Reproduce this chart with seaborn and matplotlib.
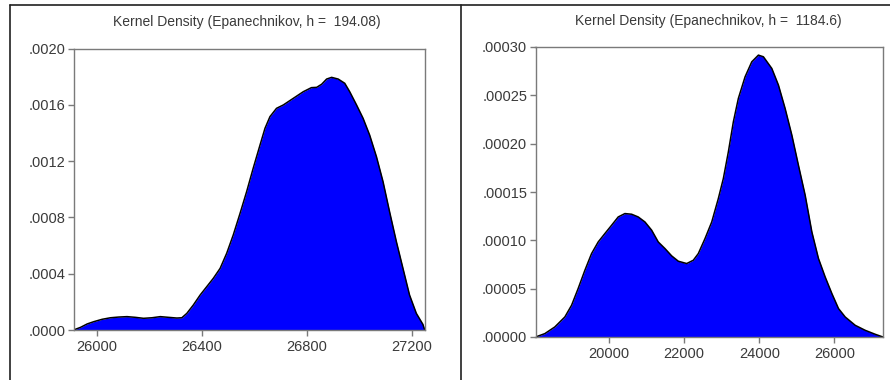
import numpy as np
import pandas as pd
import matplotlib
matplotlib.use("Agg")
import matplotlib.pyplot as plt
from matplotlib.lines import Line2D
import seaborn as sns

sns.set_theme(style="white")
plt.rcParams['font.family'] = ['Liberation Sans', 'DejaVu Sans']

# ---- data ----
left_title = "Kernel Density (Epanechnikov, h =  194.08)"
left_x = [25910, 25937, 25962, 25987, 26019, 26051, 26082, 26114, 26146, 26177,
          26209, 26241, 26272, 26304, 26323, 26342, 26367, 26393, 26418, 26443,
          26469, 26494, 26519, 26545, 26570, 26595, 26621, 26640, 26659, 26684,
          26710, 26748, 26786, 26817, 26837, 26856, 26875, 26894, 26919, 26944,
          26963, 26989, 27014, 27039, 27065, 27090, 27115, 27141, 27166, 27191,
          27217, 27242, 27249]
left_y = [0.0, 0.000019, 0.000043, 0.000059, 0.000076, 0.000087, 0.000092, 0.000095,
          0.000090, 0.000083, 0.000087, 0.000095, 0.000090, 0.000085, 0.000087,
          0.000118, 0.000178, 0.000249, 0.000308, 0.000367, 0.000438, 0.000545,
          0.000675, 0.000829, 0.000983, 0.001149, 0.001314, 0.001433, 0.001516,
          0.001575, 0.001599, 0.001646, 0.001693, 0.001722, 0.001724, 0.001746,
          0.001783, 0.001795, 0.001783, 0.001753, 0.001693, 0.001599, 0.001504,
          0.001385, 0.001231, 0.001054, 0.000840, 0.000627, 0.000438, 0.000249,
          0.000118, 0.000040, 0.0]
left_xticks = [26000, 26400, 26800, 27200]
left_yticks = [0.0, 0.0004, 0.0008, 0.0012, 0.0016, 0.0020]
left_yticklabels = [".0000", ".0004", ".0008", ".0012", ".0016", ".0020"]

right_title = "Kernel Density (Epanechnikov, h =  1184.6)"
right_x = [18048, 18296, 18562, 18828, 19007, 19182, 19361, 19539, 19715, 19893,
           20072, 20248, 20426, 20605, 20780, 20959, 21137, 21313, 21491, 21670,
           21846, 22069, 22245, 22378, 22557, 22735, 22911, 23044, 23177, 23310,
           23443, 23622, 23800, 23976, 24109, 24333, 24509, 24687, 24866, 25041,
           25220, 25398, 25574, 25752, 25931, 26107, 26285, 26551, 26818, 27084,
           27289]
right_y = [0.0, 0.0000035, 0.0000104, 0.0000207, 0.0000328, 0.0000501, 0.0000690,
           0.0000863, 0.0000983, 0.0001070, 0.0001156, 0.0001242, 0.0001277,
           0.0001270, 0.0001242, 0.0001190, 0.0001105, 0.0000983, 0.0000915,
           0.0000839, 0.0000784, 0.0000760, 0.0000794, 0.0000863, 0.0001019,
           0.0001190, 0.0001433, 0.0001640, 0.0001915, 0.0002226, 0.0002468,
           0.0002692, 0.0002847, 0.0002916, 0.0002899, 0.0002778, 0.0002606,
           0.0002364, 0.0002088, 0.0001777, 0.0001467, 0.0001087, 0.0000812,
           0.0000621, 0.0000449, 0.0000294, 0.0000207, 0.0000121, 0.0000069,
           0.0000028, 0.0]
right_xticks = [20000, 22000, 24000, 26000]
right_yticks = [0.0, 0.00005, 0.00010, 0.00015, 0.00020, 0.00025, 0.00030]
right_yticklabels = [".00000", ".00005", ".00010", ".00015", ".00020", ".00025", ".00030"]

W, H = 890, 380
fig = plt.figure(figsize=(W / 100, H / 100), dpi=100)
fig.patch.set_facecolor("white")

def px_axes(x0, y0, x1, y1):
    return fig.add_axes([x0 / W, 1 - y1 / H, (x1 - x0) / W, (y1 - y0) / H])

TXT = "#3a3a3a"
SP = "#7a7a7a"

def draw(ax, xs, ys, xlim, ylim, xticks, yticks, ylabels, title, tx, ty):
    df = pd.DataFrame({"x": xs, "y": ys})
    ax.fill_between(df["x"], df["y"], 0, color="#0000ff", linewidth=0, zorder=2)
    sns.lineplot(data=df, x="x", y="y", ax=ax, color="black", linewidth=1.1,
                 sort=False, zorder=3)
    ax.set_xlim(*xlim)
    ax.set_ylim(*ylim)
    ax.set_xticks(xticks)
    ax.set_xticklabels([str(t) for t in xticks])
    ax.set_yticks(yticks)
    ax.set_yticklabels(ylabels)
    ax.set_xlabel("")
    ax.set_ylabel("")
    for s in ax.spines.values():
        s.set_color(SP)
        s.set_linewidth(1.0)
        s.set_zorder(4)
    ax.tick_params(axis="both", which="both", direction="out", length=4, width=1,
                   color=SP, labelcolor=TXT, labelsize=10.5)
    ax.tick_params(axis="x", pad=3)
    ax.tick_params(axis="y", pad=2)
    ax.tick_params(top=False, right=False, bottom=True, left=True)
    fig.text(tx / W, 1 - ty / H, title, ha="center", va="center",
             fontsize=10, color=TXT)

ax1 = px_axes(73.5, 48.5, 425, 330)
draw(ax1, left_x, left_y, (25910, 27250), (0, 0.0020), left_xticks, left_yticks,
     left_yticklabels, left_title, 246.5, 22)

ax2 = px_axes(535.5, 47, 883, 337)
draw(ax2, right_x, right_y, (18048, 27290), (0, 0.00030), right_xticks, right_yticks,
     right_yticklabels, right_title, 708.5, 21)

# panel frame lines
fig.add_artist(Line2D([10 / W, 10 / W], [0, 1 - 5 / H], color="#202020", lw=1.2))
fig.add_artist(Line2D([10 / W, 1], [1 - 5 / H, 1 - 5 / H], color="#202020", lw=1.2))
fig.add_artist(Line2D([461 / W, 461 / W], [0, 1 - 5 / H], color="#202020", lw=1.2))

fig.savefig("out.png", dpi=100)
